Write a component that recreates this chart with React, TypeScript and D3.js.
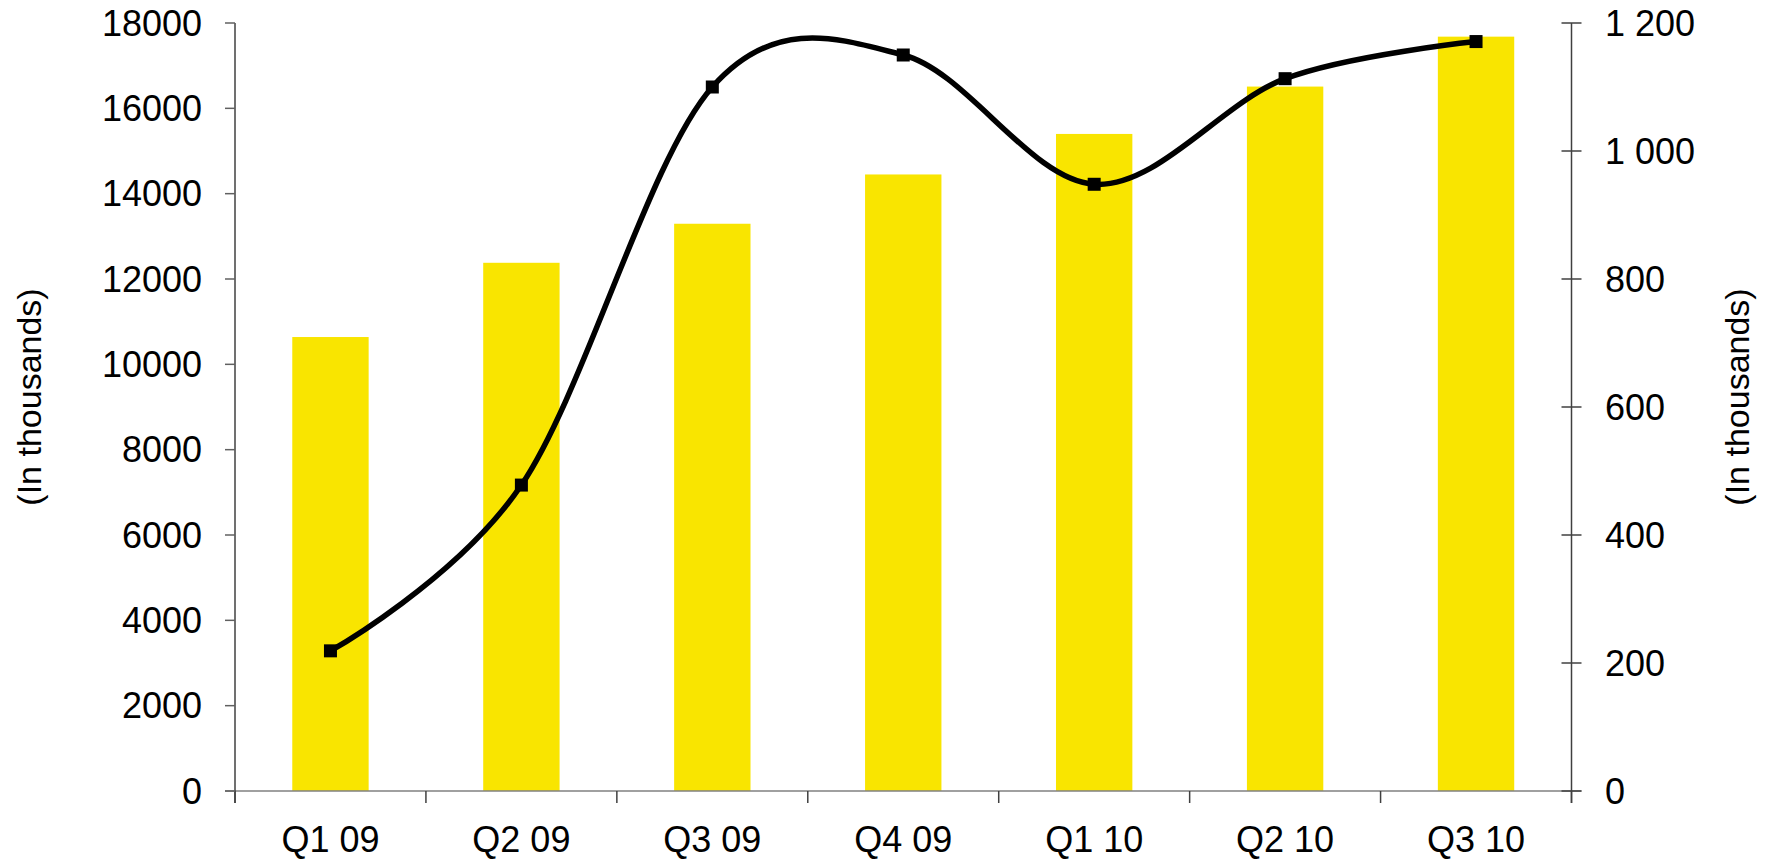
import React from "react";
import * as d3 from "d3";

const categories = ["Q1 09", "Q2 09", "Q3 09", "Q4 09", "Q1 10", "Q2 10", "Q3 10"];
const barValues = [10640, 12380, 13295, 14450, 15400, 16510, 17680];
const lineValues = [219, 478, 1100, 1150, 948, 1113, 1171];
const leftTicks = [0, 2000, 4000, 6000, 8000, 10000, 12000, 14000, 16000, 18000];
const rightTicks = [0, 200, 400, 600, 800, 1000, 1200];
const axisTitle = "(In thousands)";

const W = 1769;
const H = 863;
const left = 235;
const right = 1571.5;
const top = 23;
const bottom = 791;
const FONT = "'Liberation Sans', Arial, Helvetica, sans-serif";
const FS = 36;
const FS_X = 36;
const FS_T = 34;

export default function App() {
  const x = d3.scaleBand<string>().domain(categories).range([left, right]).paddingInner(0.6).paddingOuter(0.3);
  const yL = d3.scaleLinear().domain([0, 18000]).range([bottom, top]);
  const yR = d3.scaleLinear().domain([0, 1200]).range([bottom, top]);
  const step = x.step();
  const bw = x.bandwidth();
  const fmtR = d3.formatLocale({ thousands: " ", grouping: [3], decimal: ".", currency: ["", ""] }).format(",");

  const pts: [number, number][] = categories.map((c, i) => [x(c)! + bw / 2, yR(lineValues[i])]);
  const lineGen = d3.line().curve(d3.curveCardinal.tension(0));
  const path = lineGen(pts) || "";

  const boundaries = categories.map((c) => x(c)! - (step - bw) / 2).concat([right]);

  return (
    <svg width={W} height={H} style={{ position: "absolute", left: 0, top: 0, background: "#fff" }} fontFamily={FONT}>
      {/* bars */}
      {categories.map((c, i) => (
        <rect key={c} x={x(c)} y={yL(barValues[i])} width={bw} height={bottom - yL(barValues[i])} fill="#F9E500" />
      ))}
      {/* x axis */}
      <line x1={left - 10} x2={right + 10} y1={bottom} y2={bottom} stroke="#808080" strokeWidth={1.5} />
      {boundaries.map((b, i) => (
        <line key={i} x1={b} x2={b} y1={bottom} y2={bottom + 12} stroke="#404040" strokeWidth={1.5} />
      ))}
      {categories.map((c) => (
        <text key={c} x={x(c)! + bw / 2} y={852} fontSize={FS_X} textAnchor="middle" fill="#000">
          {c}
        </text>
      ))}
      {/* left axis */}
      <line x1={left} x2={left} y1={top} y2={bottom + 12} stroke="#404040" strokeWidth={1.5} />
      {leftTicks.map((t) => (
        <g key={t}>
          <line x1={left - 10} x2={left} y1={yL(t)} y2={yL(t)} stroke="#606060" strokeWidth={1.5} />
          <text x={202} y={yL(t)} dy="0.35em" fontSize={FS} textAnchor="end" fill="#000">
            {t}
          </text>
        </g>
      ))}
      {/* right axis */}
      <line x1={right} x2={right} y1={top} y2={bottom + 12} stroke="#404040" strokeWidth={1.5} />
      {rightTicks.map((t) => (
        <g key={t}>
          <line x1={right - 10} x2={right + 10} y1={yR(t)} y2={yR(t)} stroke="#404040" strokeWidth={1.5} />
          <text x={1605} y={yR(t)} dy="0.35em" fontSize={FS} textAnchor="start" fill="#000">
            {fmtR(t)}
          </text>
        </g>
      ))}
      {/* axis titles */}
      <text transform={`translate(41,397) rotate(-90)`} fontSize={FS_T} textAnchor="middle" fill="#000">
        {axisTitle}
      </text>
      <text transform={`translate(1749,397) rotate(-90)`} fontSize={FS_T} textAnchor="middle" fill="#000">
        {axisTitle}
      </text>
      {/* line */}
      <path d={path} fill="none" stroke="#000" strokeWidth={5.5} strokeLinejoin="round" />
      {pts.map((p, i) => (
        <rect key={i} x={p[0] - 6.5} y={p[1] - 6.5} width={13} height={13} fill="#000" />
      ))}
    </svg>
  );
}
